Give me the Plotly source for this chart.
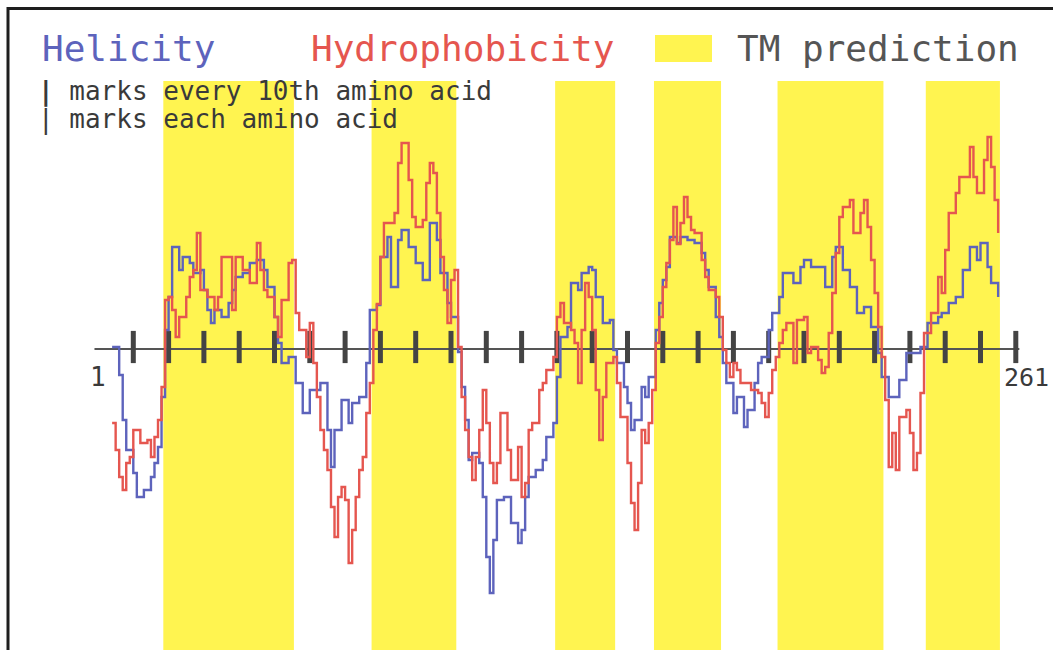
import plotly.graph_objects as go

# Sequence length and predicted transmembrane segments (first, last residue)
seq_length = 261
tm_segments = [(19, 55), (78, 101), (130, 146), (158, 176), (193, 222), (235, 255)]

# Helicity profile (residue, smoothed score)
helix_res = [4, 6, 7, 8, 10, 11, 13, 15, 16, 17, 18, 19, 20, 21, 23, 24, 26, 27, 29, 30,
             31, 32, 33, 35, 37, 38, 39, 41, 43, 45, 47, 48, 50, 51, 52, 54, 56, 58, 60, 63,
             65, 66, 67, 69, 71, 72, 74, 76, 77, 79, 80, 82, 83, 85, 86, 88, 90, 92, 94, 96,
             97, 99, 100, 102, 103, 104, 105, 106, 108, 109, 110, 111, 112, 113, 115, 117, 119, 120, 121, 122,
             124, 126, 127, 129, 130, 131, 133, 134, 136, 137, 139, 140, 141, 143, 145, 146, 147, 149, 150, 151,
             152, 154, 155, 156, 158, 159, 160, 161, 162, 164, 165, 167, 169, 171, 172, 173, 175, 176, 177, 178,
             180, 181, 183, 184, 186, 187, 188, 190, 191, 193, 194, 196, 197, 199, 200, 202, 204, 206, 208, 209,
             211, 213, 215, 217, 219, 221, 222, 224, 227, 229, 231, 233, 235, 238, 239, 241, 243, 245, 247, 249,
             250, 252, 253, 255]
helix_val = [0.02, -0.26, -0.71, -1.01, -1.24, -1.48, -1.41, -1.28, -1.14, -0.98, -0.48, 0.19, 0.52, 1.02, 0.79, 0.92, 0.86, 0.76, 0.79, 0.59,
             0.39, 0.26, 0.39, 0.32, 0.46, 0.59, 0.72, 0.76, 0.86, 0.89, 0.79, 0.62, 0.32, 0.06, -0.14, -0.08, -0.34, -0.64, -0.41, -0.34,
             -0.81, -1.18, -0.81, -0.51, -0.74, -0.54, -0.48, -0.14, 0.39, 0.44, 0.92, 1.12, 0.62, 1.09, 1.19, 1.02, 0.86, 0.69, 1.26, 1.09,
             0.76, 0.46, 0.32, -0.03, -0.38, -0.71, -1.11, -1.04, -1.14, -1.48, -2.08, -2.44, -1.91, -1.51, -1.48, -1.74, -1.94, -1.81, -1.48, -1.28,
             -1.21, -1.11, -0.88, -0.74, -0.28, 0.12, 0.22, 0.66, 0.59, 0.76, 0.82, 0.79, 0.52, 0.26, 0.29, -0.01, -0.14, -0.38, -0.54, -0.81,
             -0.71, -0.38, -0.48, -0.28, 0.19, 0.46, 0.69, 0.82, 1.12, 1.06, 1.12, 1.09, 1.06, 0.96, 0.79, 0.62, 0.32, 0.12, -0.14, -0.34,
             -0.64, -0.48, -0.78, -0.61, -0.34, -0.14, -0.08, 0.19, 0.36, 0.52, 0.76, 0.76, 0.66, 0.82, 0.89, 0.82, 0.82, 0.62, 0.92, 1.02,
             0.79, 0.62, 0.36, 0.42, 0.22, -0.04, -0.28, -0.48, -0.31, -0.04, -0.04, 0.02, 0.26, 0.32, 0.36, 0.46, 0.52, 0.79, 1.02, 0.89,
             1.06, 0.82, 0.66, 0.52]

# Hydrophobicity profile (residue, smoothed score)
hydro_res = [4, 5, 6, 7, 8, 9, 10, 12, 14, 15, 16, 17, 18, 19, 20, 21, 22, 23, 25, 26,
             27, 28, 29, 31, 33, 34, 35, 37, 38, 39, 41, 43, 45, 46, 47, 48, 50, 51, 52, 54,
             55, 56, 57, 59, 60, 61, 62, 63, 64, 65, 66, 67, 68, 69, 70, 71, 72, 73, 74, 75,
             76, 77, 78, 79, 80, 81, 83, 84, 85, 86, 88, 89, 90, 92, 93, 94, 95, 96, 97, 98,
             99, 100, 101, 102, 103, 104, 105, 106, 107, 108, 109, 110, 111, 112, 113, 114, 116, 117, 119, 120,
             121, 122, 123, 125, 126, 127, 129, 130, 131, 132, 134, 135, 136, 137, 138, 139, 140, 141, 142, 143,
             144, 146, 147, 148, 150, 151, 152, 153, 154, 155, 156, 157, 158, 159, 160, 161, 162, 163, 164, 165,
             166, 167, 168, 169, 171, 172, 173, 175, 176, 177, 178, 179, 180, 181, 182, 184, 185, 187, 188, 189,
             190, 191, 192, 193, 194, 195, 197, 198, 200, 201, 202, 204, 205, 206, 207, 208, 209, 210, 211, 213,
             214, 216, 217, 218, 219, 220, 221, 222, 223, 224, 225, 226, 227, 229, 230, 231, 232, 233, 234, 236,
             238, 239, 240, 241, 243, 244, 246, 247, 248, 249, 251, 252, 253, 254, 255]
hydro_val = [-0.74, -1.01, -1.28, -1.41, -1.14, -1.08, -0.81, -0.94, -0.91, -1.08, -0.88, -0.71, -0.38, 0.49, 0.52, 0.39, 0.12, 0.32, 0.52, 0.72,
             0.79, 1.16, 0.59, 0.52, 0.39, 0.52, 0.92, 0.92, 0.39, 0.92, 0.79, 0.66, 1.06, 0.79, 0.59, 0.52, 0.32, 0.12, 0.49, 0.86,
             0.89, 0.36, 0.19, -0.08, 0.26, -0.14, -0.48, -0.81, -1.01, -1.21, -1.58, -1.88, -1.48, -1.38, -1.51, -2.14, -1.81, -1.48, -1.21, -1.08,
             -0.64, -0.34, 0.19, 0.45, 0.92, 1.26, 1.26, 1.36, 1.86, 2.06, 1.69, 1.32, 1.22, 1.29, 1.66, 1.86, 1.76, 1.36, 0.92, 0.59,
             0.26, 0.69, 0.79, 0.02, -0.48, -0.81, -1.08, -1.31, -1.08, -0.81, -0.41, -0.74, -1.14, -1.34, -1.14, -0.64, -1.01, -1.31, -0.98, -1.48,
             -1.34, -0.81, -0.74, -0.41, -0.34, -0.21, -0.08, 0.32, 0.46, 0.26, 0.19, 0.06, -0.34, 0.19, 0.66, 0.52, 0.19, -0.41, -0.91, -0.48,
             -0.14, -0.08, -0.34, -0.68, -1.14, -1.54, -1.81, -1.34, -0.81, -0.94, -0.74, -0.41, 0.06, 0.32, 0.62, 0.86, 1.09, 1.42, 1.05, 1.26,
             1.52, 1.32, 1.19, 1.16, 0.89, 0.72, 0.59, 0.52, 0.32, -0.01, -0.14, -0.28, -0.14, -0.21, -0.34, -0.34, -0.41, -0.44, -0.54, -0.68,
             -0.44, -0.21, -0.08, 0.06, 0.19, 0.26, -0.14, 0.29, 0.32, -0.04, 0.02, -0.11, -0.24, -0.18, 0.16, 0.56, 0.96, 1.32, 1.42, 1.49,
             1.16, 1.36, 1.49, 1.22, 0.89, 0.56, 0.22, -0.08, -0.51, -1.18, -0.84, -1.21, -0.68, -0.61, -0.84, -1.21, -1.04, -0.44, 0.16, 0.36,
             0.72, 0.56, 0.99, 1.36, 1.56, 1.72, 1.72, 2.02, 1.72, 1.56, 1.89, 2.12, 1.82, 1.49, 1.16]

# Residue ruler: a heavy mark every 10th residue
ruler_marks = list(range(10, seq_length, 10))

W, H = 1053, 650
BLUE = "#5d63bc"
RED = "#e5564f"
YELLOW = "#fff450"
MONO = "DejaVu Sans Mono"


def px(xp):
    return xp / W


def py(yp):
    return 1 - yp / H


fig = go.Figure()

# Predicted TM segments as yellow columns
for start, end in tm_segments:
    fig.add_shape(type="rect", xref="x", yref="y", x0=start - 0.5, x1=end + 0.5,
                  y0=-3.2, y1=2.68, fillcolor=YELLOW, line_width=0, layer="below")

# Sequence axis
fig.add_trace(go.Scatter(x=[-1, seq_length], y=[0, 0], mode="lines",
                         line=dict(color="#555555", width=2), hoverinfo="skip"))
fig.add_trace(go.Scatter(x=ruler_marks, y=[0.02] * len(ruler_marks), mode="markers",
                         marker=dict(symbol="line-ns", size=23,
                                     line=dict(color="#444444", width=5)),
                         hoverinfo="skip"))

# Profiles
fig.add_trace(go.Scatter(x=helix_res, y=helix_val, mode="lines", line_shape="hv",
                         line=dict(color=BLUE, width=2.4), name="Helicity"))
fig.add_trace(go.Scatter(x=hydro_res, y=hydro_val, mode="lines", line_shape="hv",
                         line=dict(color=RED, width=2.4), name="Hydrophobicity"))

# Header legend
big = dict(family=MONO, size=36)
fig.add_annotation(x=px(40), y=py(48), xref="paper", yref="paper", text="Helicity",
                   showarrow=False, xanchor="left", yanchor="middle",
                   font=dict(color=BLUE, **big))
fig.add_annotation(x=px(309), y=py(48), xref="paper", yref="paper", text="Hydrophobicity",
                   showarrow=False, xanchor="left", yanchor="middle",
                   font=dict(color=RED, **big))
fig.add_shape(type="rect", xref="paper", yref="paper", x0=px(655), x1=px(712),
              y0=py(62), y1=py(35), fillcolor=YELLOW, line_width=0)
fig.add_annotation(x=px(735), y=py(48), xref="paper", yref="paper", text="TM prediction",
                   showarrow=False, xanchor="left", yanchor="middle",
                   font=dict(color="#555555", **big))

small = dict(family=MONO, size=26, color="#3a3a3a")
fig.add_annotation(x=px(36), y=py(91), xref="paper", yref="paper",
                   text="<b>|</b> marks every 10th amino acid",
                   showarrow=False, xanchor="left", yanchor="middle", font=small)
fig.add_annotation(x=px(36), y=py(119), xref="paper", yref="paper",
                   text="| marks each amino acid",
                   showarrow=False, xanchor="left", yanchor="middle", font=small)

# End labels of the sequence
fig.add_annotation(x=1, y=-0.28, text="1", showarrow=False, xanchor="center",
                   xshift=-4, yanchor="middle", font=small)
fig.add_annotation(x=px(1051), y=py(377), xref="paper", yref="paper", text=str(seq_length),
                   showarrow=False, xanchor="right", yanchor="middle",
                   font=dict(family=MONO, size=25, color="#3a3a3a"))

# Frame
fig.add_shape(type="rect", xref="paper", yref="paper", x0=px(8), x1=1.02,
              y0=-0.02, y1=py(8.5), line=dict(color="#1e1e1e", width=3),
              fillcolor="rgba(0,0,0,0)")

fig.update_layout(
    width=W, height=H,
    margin=dict(l=0, r=0, t=0, b=0),
    paper_bgcolor="white", plot_bgcolor="white",
    showlegend=False,
    xaxis=dict(visible=False, range=[-98 / 3.53, (W - 98) / 3.53]),
    yaxis=dict(visible=False, range=[(349 - H) / 100, 3.49]),
)

fig.write_html("out.html")
